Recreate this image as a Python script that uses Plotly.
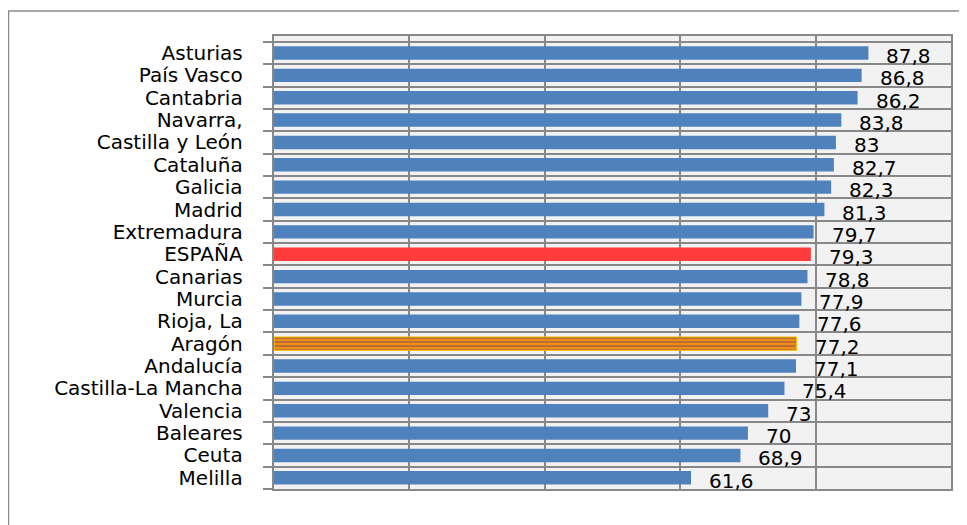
import plotly.graph_objects as go

categories = ["Asturias", "País Vasco", "Cantabria", "Navarra,", "Castilla y León",
              "Cataluña", "Galicia", "Madrid", "Extremadura", "ESPAÑA", "Canarias",
              "Murcia", "Rioja, La", "Aragón", "Andalucía", "Castilla-La Mancha",
              "Valencia", "Baleares", "Ceuta", "Melilla"]
values = [87.8, 86.8, 86.2, 83.8, 83, 82.7, 82.3, 81.3, 79.7, 79.3, 78.8,
          77.9, 77.6, 77.2, 77.1, 75.4, 73, 70, 68.9, 61.6]
x_ticks = [0, 20, 40, 60, 80, 100]

BLUE = "#4f81bd"
colors = []
patterns = []
for c in categories:
    if c == "ESPAÑA":
        colors.append("#ff3b3b"); patterns.append("")
    elif c == "Aragón":
        colors.append("#f28a1e"); patterns.append("-")
    else:
        colors.append(BLUE); patterns.append("")
line_colors = ["#ffc000" if c == "Aragón" else "rgba(0,0,0,0)" for c in categories]

def fmt(v):
    return ("%g" % v).replace(".", ",")

FONT = "DejaVu Sans"
labels = [c + " " for c in categories]

fig = go.Figure()
fig.add_trace(go.Bar(
    x=values, y=labels, orientation="h",
    width=0.6,
    marker=dict(color=colors,
                line=dict(color=line_colors, width=1),
                pattern=dict(shape=patterns, fgcolor="#e0400a", size=4, solidity=0.35)),
    hoverinfo="skip",
))

annotations = []
for lab, v in zip(labels, values):
    annotations.append(dict(x=v, y=lab, xref="x", yref="y", text=fmt(v),
                            showarrow=False, xanchor="left", yanchor="middle",
                            xshift=16, yshift=-3,
                            font=dict(family=FONT, size=20, color="#000000")))

# page body has an 8px margin; compensate
W, H = 959, 517
ml, mr, mt, mb = 266, 16, 28, 36
pw, ph = W - ml - mr, H - mt - mb
def px_x(p): return (p - ml) / pw
def px_y(p): return 1 - (p - mt) / ph
shapes = [dict(type="path", xref="paper", yref="paper",
               path=f"M {px_x(0.5)} {px_y(530)} L {px_x(0.5)} {px_y(3)} L {px_x(975)} {px_y(3)}",
               line=dict(color="#8c8c8c", width=1.5), layer="above")]

fig.update_layout(
    width=W, height=H,
    margin=dict(l=ml, r=mr, t=mt, b=mb),
    paper_bgcolor="white", plot_bgcolor="#f2f2f2",
    showlegend=False, bargap=0.4,
    annotations=annotations, shapes=shapes,
    xaxis=dict(range=[0, 100], tickvals=x_ticks, showticklabels=False,
               showgrid=True, gridcolor="#888888", gridwidth=2,
               zeroline=False, showline=True, linecolor="#888888", linewidth=2,
               mirror=True, fixedrange=True),
    yaxis=dict(type="category", autorange="reversed", tickson="boundaries",
               tickmode="array", tickvals=labels, ticktext=labels,
               ticks="outside", ticklen=9, tickwidth=2, tickcolor="#888888",
               showgrid=True, gridcolor="#888888", gridwidth=2,
               showline=True, linecolor="#888888", linewidth=2, mirror=True,
               ticklabelstandoff=19,
               tickfont=dict(family=FONT, size=20, color="#000000"),
               fixedrange=True),
)

fig.write_html("out.html")
